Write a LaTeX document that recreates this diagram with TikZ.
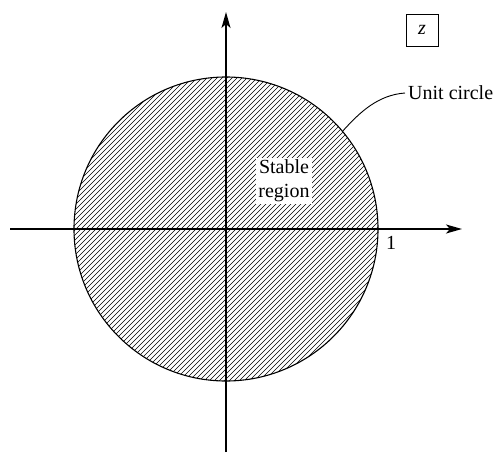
\documentclass[tikz,border=0pt]{standalone}
\usepackage{fontspec}
\setmainfont{Liberation Serif}
\usetikzlibrary{arrows.meta}
\begin{document}
\begin{tikzpicture}[x=1pt,y=-1pt,
  font=\fontsize{20}{24}\selectfont,
  axis/.style={line width=1.6pt, -{Stealth[length=16pt,width=9pt,inset=4pt]}},
  hatch/.style={line width=0.55pt},
  rim/.style={draw, circle, line width=1.1pt, minimum size=304pt, inner sep=0pt},
  leader/.style={line width=0.9pt},
  zbox/.style={draw, line width=0.8pt, minimum size=32pt, inner sep=0pt},
  label/.style={inner sep=0pt}]
\useasboundingbox (0,0) rectangle (493,455);
\coordinate (O) at (226,229);
\begin{scope}
  \clip (O) circle (152pt);
  \foreach \c in {-330,-325,...,330}
    \draw[hatch, shift={(O)}] (\c-170,170) -- (\c+170,-170);
\end{scope}
\node[rim] (uc) at (O) {};
\node[fill=white, align=center, inner sep=2pt] (st) at (284,181) {Stable\\region};
\coordinate (xl) at (10,229);
\coordinate (xr) at (462,229);
\coordinate (yb) at (226,452);
\coordinate (yt) at (226,12);
\draw[axis] (xl) -- (xr);
\draw[axis] (yb) -- (yt);
\node[label, anchor=north west] (one) at (386,236) {1};
\node[zbox] (zb) at (422,30) {\itshape z};
\node[label, anchor=west] (ul) at (408,93) {Unit circle};
\draw[leader] (uc.40) .. controls (360,112) and (378,95) .. ([xshift=-3pt]ul.west);
\end{tikzpicture}
\end{document}
